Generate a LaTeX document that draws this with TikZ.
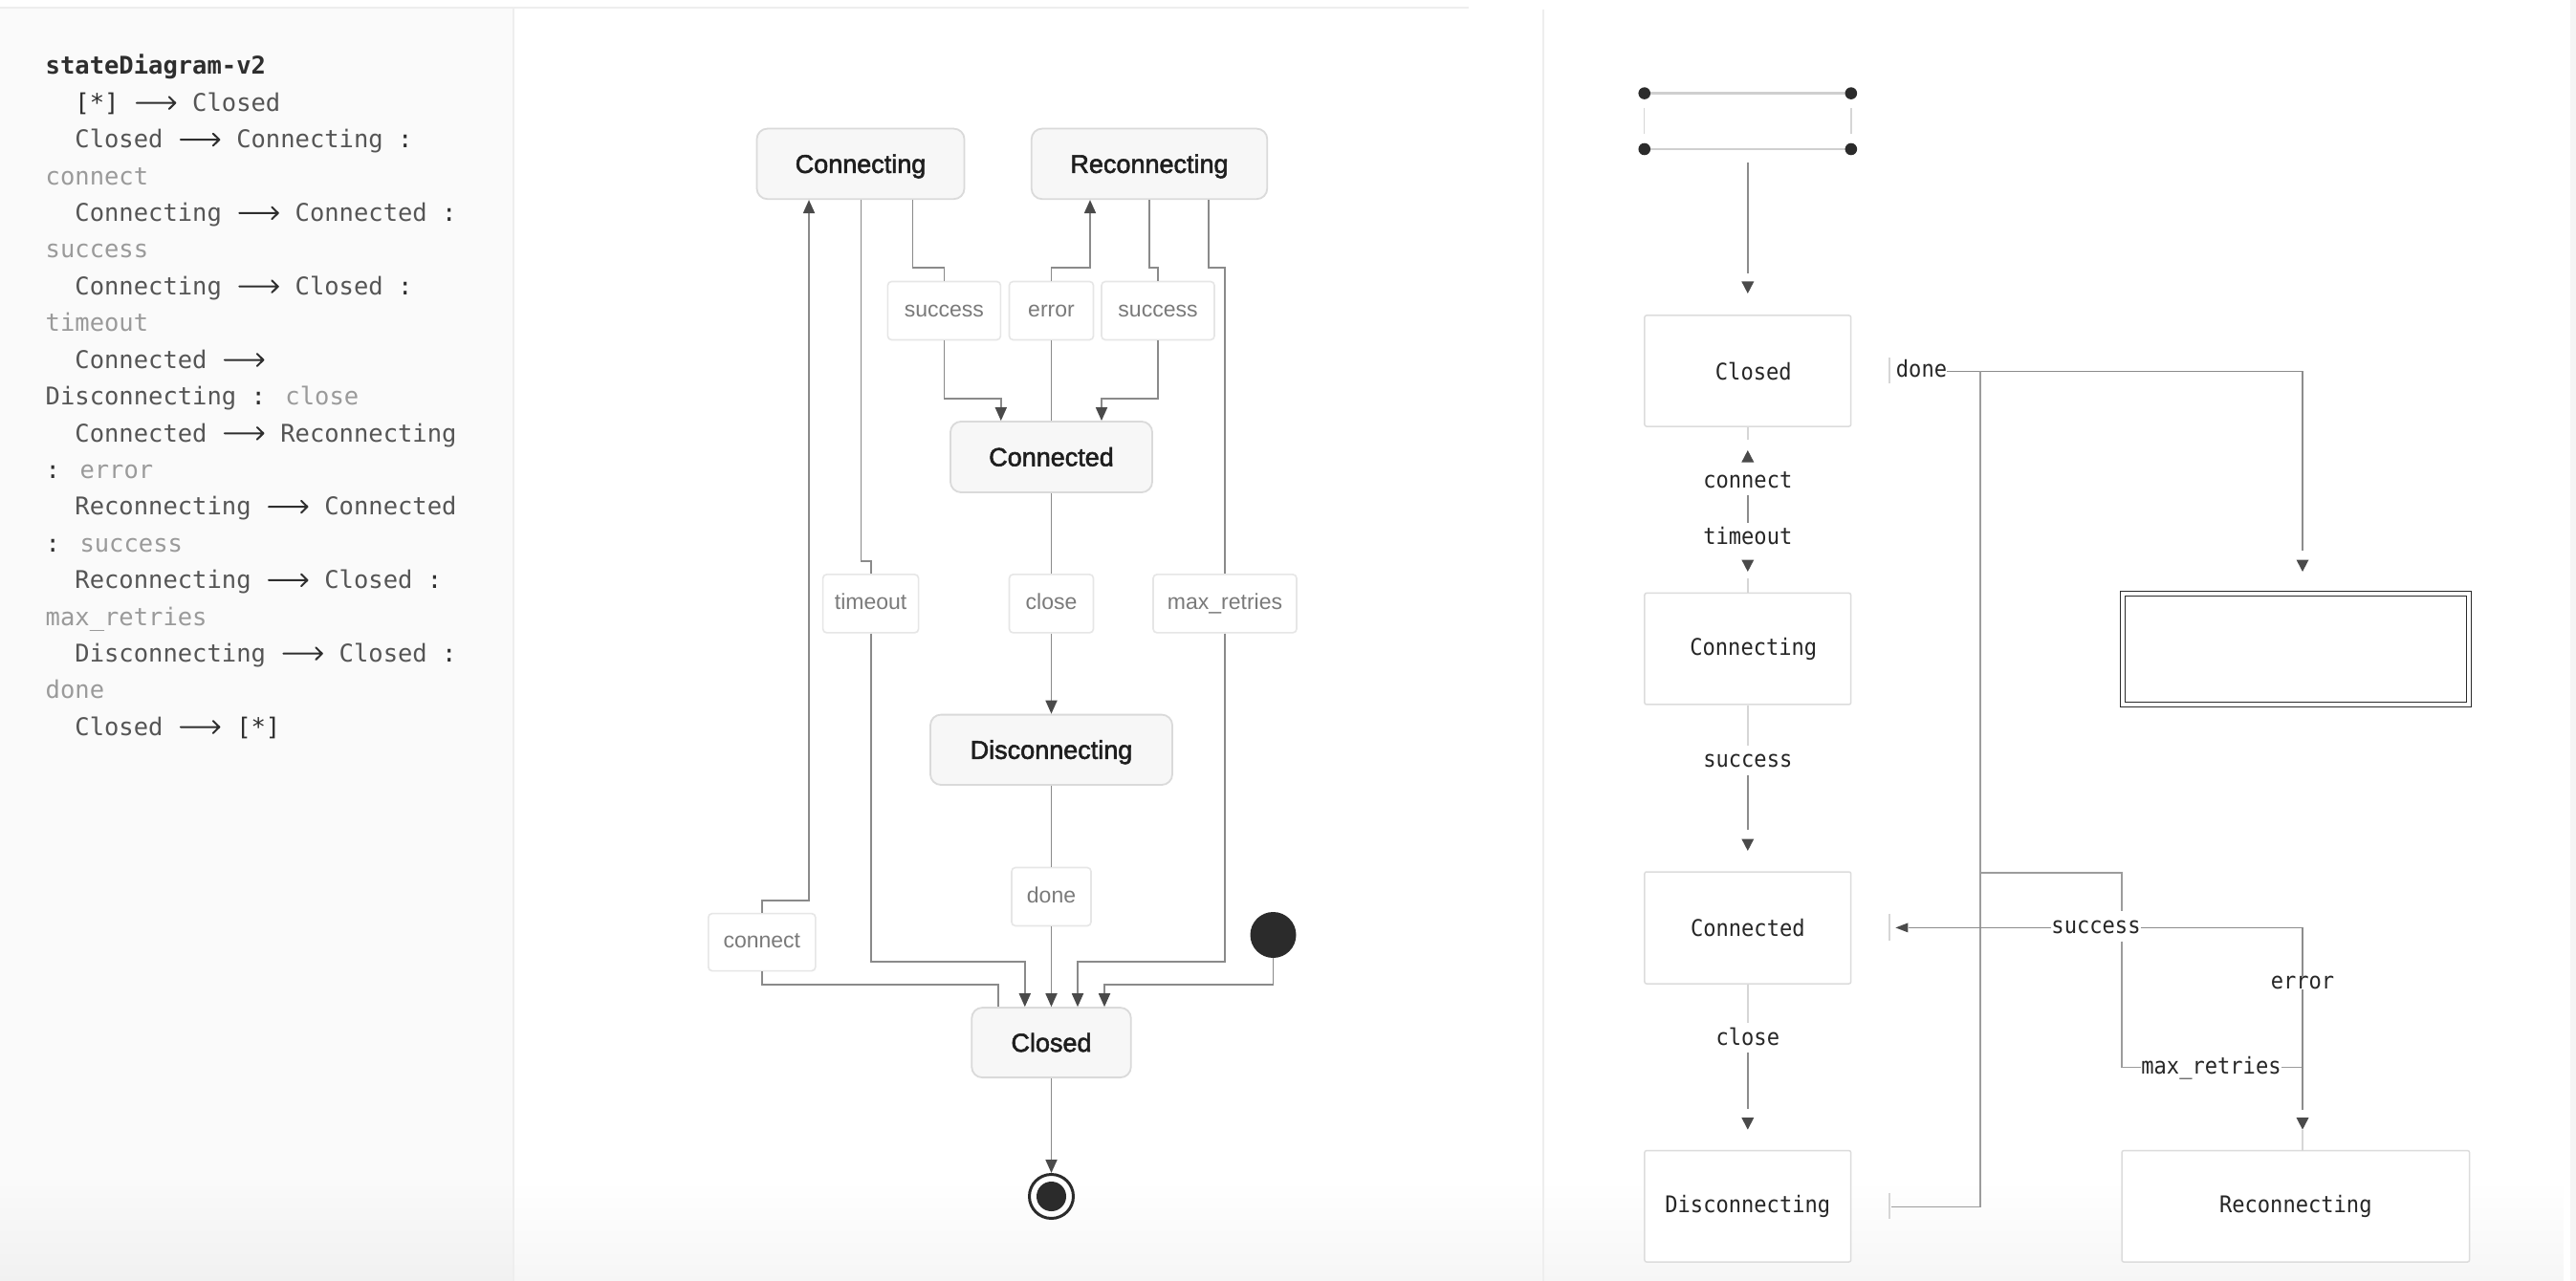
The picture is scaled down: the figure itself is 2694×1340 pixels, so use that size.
\documentclass[tikz,border=0pt]{standalone}
\usepackage{fontspec}
\setmainfont{Liberation Sans}
\newfontfamily\nodefont[FakeBold=2]{Liberation Sans}
\newfontfamily\codefont{DejaVu Sans Mono}
\newfontfamily\asciifont[FakeStretch=0.92]{DejaVu Sans Mono}
\usetikzlibrary{arrows.meta,fadings,calc}

\definecolor{panelbg}{HTML}{FAFAFA}
\definecolor{divider}{HTML}{EEEEEE}
\definecolor{codedark}{HTML}{2E2E2E}
\definecolor{codestate}{HTML}{555555}
\definecolor{codelabel}{HTML}{9A9A9A}
\definecolor{nodefill}{HTML}{F7F7F7}
\definecolor{nodeborder}{HTML}{DADADA}
\definecolor{nodetext}{HTML}{1E1E1E}
\definecolor{edgecol}{HTML}{8A8A8A}
\definecolor{tipcol}{HTML}{4A4A4A}
\definecolor{lblborder}{HTML}{E6E6E6}
\definecolor{lbltext}{HTML}{7A7A7A}
\definecolor{dotcol}{HTML}{2B2B2B}
\definecolor{rborder}{HTML}{DCDCDC}
\definecolor{rtextcol}{HTML}{262626}
\definecolor{rdarkcol}{HTML}{8C8C8C}
\definecolor{rmidcol}{HTML}{9C9C9C}
\definecolor{rlightcol}{HTML}{D6D6D6}
\definecolor{rinitcol}{HTML}{CFCFCF}
\definecolor{stripcol}{HTML}{F5F5F5}

\newsavebox\arrbox
\newcommand\codearrow{\usebox\arrbox}
\newcommand\cst[1]{\textcolor{codestate}{#1}}
\newcommand\clb[1]{\textcolor{codelabel}{#1}}
\newcommand\cdk[1]{\textcolor{codedark}{#1}}
\newcommand\dtri[1]{\fill[tipcol] (#1) -- ++(-6.5,-12.5) -- ++(13,0) -- cycle;}
\newcommand\utri[1]{\fill[tipcol] (#1) -- ++(-6.5,12.5) -- ++(13,0) -- cycle;}
\newcommand\ltri[1]{\fill[tipcol] (#1) -- ++(13,-5) -- ++(0,10) -- cycle;}

\begin{document}
\sbox\arrbox{\begin{pgfpicture}%
  \pgfpathrectangle{\pgfpoint{0pt}{0pt}}{\pgfpoint{46.05pt}{15pt}}%
  \pgfusepath{use as bounding box}%
  \pgfsetlinewidth{2pt}\pgfsetroundcap\pgfsetroundjoin
  \pgfsetstrokecolor{codedark}%
  \pgfpathmoveto{\pgfpoint{3pt}{8.7pt}}\pgfpathlineto{\pgfpoint{43.5pt}{8.7pt}}%
  \pgfpathmoveto{\pgfpoint{37pt}{15pt}}\pgfpathlineto{\pgfpoint{43.5pt}{8.7pt}}\pgfpathlineto{\pgfpoint{37pt}{2.4pt}}%
  \pgfusepath{stroke}%
\end{pgfpicture}}%
\begin{tikzpicture}[x=1pt,y=-1pt,
  codeline/.style={anchor=base west,inner sep=0,font=\codefont\fontsize{25.5}{30}\selectfont},
  mstate/.style={draw=nodeborder,line width=1.8pt,fill=nodefill,rounded corners=11pt,inner sep=0,
    text=nodetext,text height=19pt,text depth=0pt,font=\nodefont\fontsize{27}{30}\selectfont},
  lbl/.style={draw=lblborder,line width=1.6pt,fill=white,rounded corners=4pt,inner sep=0,
    minimum height=61pt,text=lbltext,text height=12pt,text depth=0pt,font=\fontsize{23}{28}\selectfont},
  tline/.style={draw=edgecol,line width=1.8pt},
  tarrow/.style={tline,-{Triangle[length=14pt,width=12pt,color=tipcol]}},
  rbox/.style={draw=rborder,line width=1.5pt,rounded corners=2pt,fill=white,inner sep=0,
    text=rtextcol,font=\asciifont\fontsize{24}{28}\selectfont},
  rtext/.style={inner sep=0,text=rtextcol,text height=13pt,text depth=0pt,font=\asciifont\fontsize{24}{28}\selectfont},
  rdark/.style={draw=rdarkcol,line width=1.8pt},
  rmid/.style={draw=rmidcol,line width=1.6pt},
  rlight/.style={draw=rlightcol,line width=1.6pt},
  rtick/.style={draw=rlightcol,line width=1.4pt}
]
\useasboundingbox (0,0) rectangle (2694,1340);
% ---------- background ----------
\fill[white] (0,0) rectangle (2694,1340);
\fill[panelbg] (0,9.5) rectangle (537,1340);
\fill[black,opacity=0.035,path fading=north] (0,1235) rectangle (2694,1340);
\fill[stripcol] (2688,0) rectangle (2694,1340);
\draw[divider,line width=2pt] (0,8.5) -- (1536,8.5);
\draw[divider,line width=2pt] (537,9.5) -- (537,1340);
\draw[divider,line width=2pt] (1614,10) -- (1614,1340);

% ---------- code panel ----------
\node[codeline] (c0) at (47.5,78) {\bfseries\cdk{stateDiagram-v2}};
\node[codeline] (c1) at (78.2,116.4) {\cdk{[*]} \codearrow{} \cst{Closed}};
\node[codeline] (c2) at (78.2,154.8) {\cst{Closed} \codearrow{} \cst{Connecting} \cdk{:}};
\node[codeline] (c3) at (47.5,193.2) {\clb{connect}};
\node[codeline] (c4) at (78.2,231.6) {\cst{Connecting} \codearrow{} \cst{Connected} \cdk{:}};
\node[codeline] (c5) at (47.5,270) {\clb{success}};
\node[codeline] (c6) at (78.2,308.4) {\cst{Connecting} \codearrow{} \cst{Closed} \cdk{:}};
\node[codeline] (c7) at (47.5,346.8) {\clb{timeout}};
\node[codeline] (c8) at (78.2,385.2) {\cst{Connected} \codearrow};
\node[codeline] (c9) at (47.5,423.6) {\cst{Disconnecting} \cdk{:} \clb{close}};
\node[codeline] (c10) at (78.2,462) {\cst{Connected} \codearrow{} \cst{Reconnecting}};
\node[codeline] (c11) at (47.5,500.4) {\cdk{:} \clb{error}};
\node[codeline] (c12) at (78.2,538.8) {\cst{Reconnecting} \codearrow{} \cst{Connected}};
\node[codeline] (c13) at (47.5,577.2) {\cdk{:} \clb{success}};
\node[codeline] (c14) at (78.2,615.6) {\cst{Reconnecting} \codearrow{} \cst{Closed} \cdk{:}};
\node[codeline] (c15) at (47.5,654) {\clb{max\_retries}};
\node[codeline] (c16) at (78.2,692.4) {\cst{Disconnecting} \codearrow{} \cst{Closed} \cdk{:}};
\node[codeline] (c17) at (47.5,730.8) {\clb{done}};
\node[codeline] (c18) at (78.2,769.2) {\cst{Closed} \codearrow{} \cdk{[*]}};

% ---------- middle diagram ----------
\node[mstate,minimum width=217,minimum height=73.6] (Connecting) at (900,171.4) {Connecting};
\node[mstate,minimum width=246.5,minimum height=73.6] (Reconnecting) at (1202,171.4) {Reconnecting};
\node[mstate,minimum width=211,minimum height=74] (Connected) at (1099.5,478) {Connected};
\node[mstate,minimum width=253,minimum height=73.4] (Disconnecting) at (1099.5,784.3) {Disconnecting};
\node[mstate,minimum width=166.5,minimum height=73] (Closed) at (1099.5,1090.6) {Closed};

\node[lbl,minimum width=118] (s1) at (987.4,325) {success};
\node[lbl,minimum width=88] (err) at (1099.5,325) {error};
\node[lbl,minimum width=118] (s2) at (1211,325) {success};
\node[lbl,minimum width=100] (tmo) at (910.6,631.4) {timeout};
\node[lbl,minimum width=88] (cls) at (1099.5,631.4) {close};
\node[lbl,minimum width=150] (mxr) at (1281,631.4) {max\_retries};
\node[lbl,minimum width=83] (dn) at (1099.5,938) {done};
\node[lbl,minimum width=112,minimum height=60] (cnt) at (796.8,985.6) {connect};

\node[circle,fill=dotcol,minimum size=48pt,inner sep=0] (start) at (1331.5,978) {};
\node[circle,draw=dotcol,line width=3pt,minimum size=46pt,inner sep=0] (end) at (1099.5,1251.5) {};
\fill[dotcol] (end.center) circle (15.5);

% Closed -> Connecting : connect
\draw[tline] (Closed.north -| 1043.7,0) |- (cnt.south |- 0,1030) -- (cnt.south);
\draw[tarrow] (cnt.north) |- (846,941.6) -- (Connecting.south -| 846,0);
% Connecting -> Closed : timeout
\draw[tline] (Connecting.south -| 900.4,0) |- (910.6,586.8) -- (tmo.north);
\draw[tarrow] (tmo.south) |- (1071.8,1006) -- (Closed.north -| 1071.8,0);
% Connecting -> Connected : success
\draw[tline] (Connecting.south -| 954.4,0) |- (987.4,280.4) -- (s1.north);
\draw[tarrow] (s1.south) |- (1046.8,417) -- (Connected.north -| 1046.8,0);
% Connected -> Reconnecting : error
\draw[tline] (Connected.north) -- (err.south);
\draw[tarrow] (err.north) |- (1140,280.4) -- (Reconnecting.south -| 1140,0);
% Reconnecting -> Connected : success
\draw[tline] (Reconnecting.south) |- (1211,280.4) -- (s2.north);
\draw[tarrow] (s2.south) |- (1152,417) -- (Connected.north -| 1152,0);
% Reconnecting -> Closed : max_retries
\draw[tline] (Reconnecting.south -| 1263.7,0) |- (1281,280.4) -- (mxr.north);
\draw[tarrow] (mxr.south) |- (1127,1006) -- (Closed.north -| 1127,0);
% Connected -> Disconnecting : close
\draw[tline] (Connected.south) -- (cls.north);
\draw[tarrow] (cls.south) -- (Disconnecting.north);
% Disconnecting -> Closed : done
\draw[tline] (Disconnecting.south) -- (dn.north);
\draw[tarrow] (dn.south) -- (Closed.north);
% [*] -> Closed
\draw[tarrow] (start.south) |- (1155,1030) -- (Closed.north -| 1155,0);
% Closed -> [*]
\draw[tarrow] (Closed.south) -- (end.north);

% ---------- right panel ----------
\node[inner sep=0,minimum width=215.7pt,minimum height=58pt] (rInit) at (1827.8,126.8) {};
\node[rbox,minimum width=215.7,minimum height=116] (rClosed) at (1827.8,388) {\hspace*{12pt}Closed};
\node[rbox,minimum width=215.7,minimum height=116.5] (rConnecting) at (1827.8,678.7) {\hspace*{12pt}Connecting};
\node[rbox,minimum width=215.7,minimum height=117] (rConnected) at (1827.8,970.5) {Connected};
\node[rbox,minimum width=215.7,minimum height=116.4] (rDisc) at (1827.8,1261.8) {Disconnecting};
\node[rbox,minimum width=363.6,minimum height=116.4] (rRecon) at (2400.8,1261.8) {Reconnecting};
\node[draw=dotcol,double=white,double distance=3.5pt,line width=1.4pt,minimum width=362,minimum height=116,inner sep=0] (rFinal) at (2401,679.2) {};

\node[rtext] (rconnect) at (1827.8,503.6) {connect};
\node[rtext] (rtimeout) at (1827.8,562.5) {timeout};
\node[rtext] (rsucc1) at (1827.8,796) {success};
\node[rtext] (rclose) at (1827.8,1086.5) {close};
\node[rtext] (rdone) at (2009.5,388.4) {done};
\node[rtext] (rsucc2) at (2192,970.4) {success};
\node[rtext] (rerror) at (2408,1028.4) {error};
\node[rtext] (rmaxr) at (2312.5,1116.5) {max\_retries};

% initial pseudo-state
\draw[draw=rinitcol,line width=2.4pt] (rInit.north west) -- (rInit.north east);
\draw[draw=rinitcol,line width=2.4pt] (rInit.south west) -- (rInit.south east);
\draw[rtick] ($(rInit.west)+(0,-14)$) -- ($(rInit.west)+(0,13)$);
\draw[rtick] ($(rInit.east)+(0,-14)$) -- ($(rInit.east)+(0,13)$);
\foreach \a in {north west,north east,south west,south east}{\fill[dotcol] (rInit.\a) circle (6.3);}

% [*] -> Closed
\draw[rdark] ($(rInit.south)+(0,14)$) -- (1827.8,285.7);
\dtri{1827.8,307}
% Closed <-> Connecting (connect / timeout)
\draw[rlight] (rClosed.south) -- (1827.8,460);
\utri{1827.8,471}
\draw[rdark] (1827.8,518) -- (1827.8,547);
\dtri{1827.8,598}
\draw[rlight] (1827.8,605) -- (rConnecting.north);
% Connecting -> Connected (success)
\draw[rlight] (rConnecting.south) -- (1827.8,780);
\draw[rdark] (1827.8,810.6) -- (1827.8,868);
\dtri{1827.8,890}
% Connected -> Disconnecting (close)
\draw[rlight] (rConnected.south) -- (1827.8,1070);
\draw[rdark] (1827.8,1101) -- (1827.8,1160);
\dtri{1827.8,1181.6}
% Closed -> [*] (done)
\draw[rtick] (1976,374) -- (1976,401);
\draw[rdark] (rdone.east) -- (2408,388.4) -- (2408,576);
\dtri{2408,598}
% Disconnecting -> Closed
\draw[rmid] (2071,388.4) -- (2071,1262.5) -- (1978,1262.5);
\draw[rtick] (1976,1247.6) -- (1976,1275);
% Reconnecting -> Closed (max_retries)
\draw[rmid] (2071,912.7) -- (2219,912.7) -- (2219,953);
\draw[rmid] (2219,984.5) -- (2219,1116.5) -- (rmaxr.west);
\draw[rmid] (rmaxr.east) -- (2408,1116.5);
% Reconnecting -> Connected (success) / Connected -> Reconnecting (error)
\draw[rdark] (rsucc2.west) -- (1996,970.4);
\ltri{1982.4,970.4}
\draw[rtick] (1976,955.8) -- (1976,983.6);
\draw[rdark] (rsucc2.east) -- (2408,970.4) -- (rerror.north);
\draw[rdark] (rerror.south) -- (2408,1160.5);
\dtri{2408,1181.6}
\draw[rlight] (2408,1181.6) -- (2408,1203.6);
\end{tikzpicture}
\end{document}
